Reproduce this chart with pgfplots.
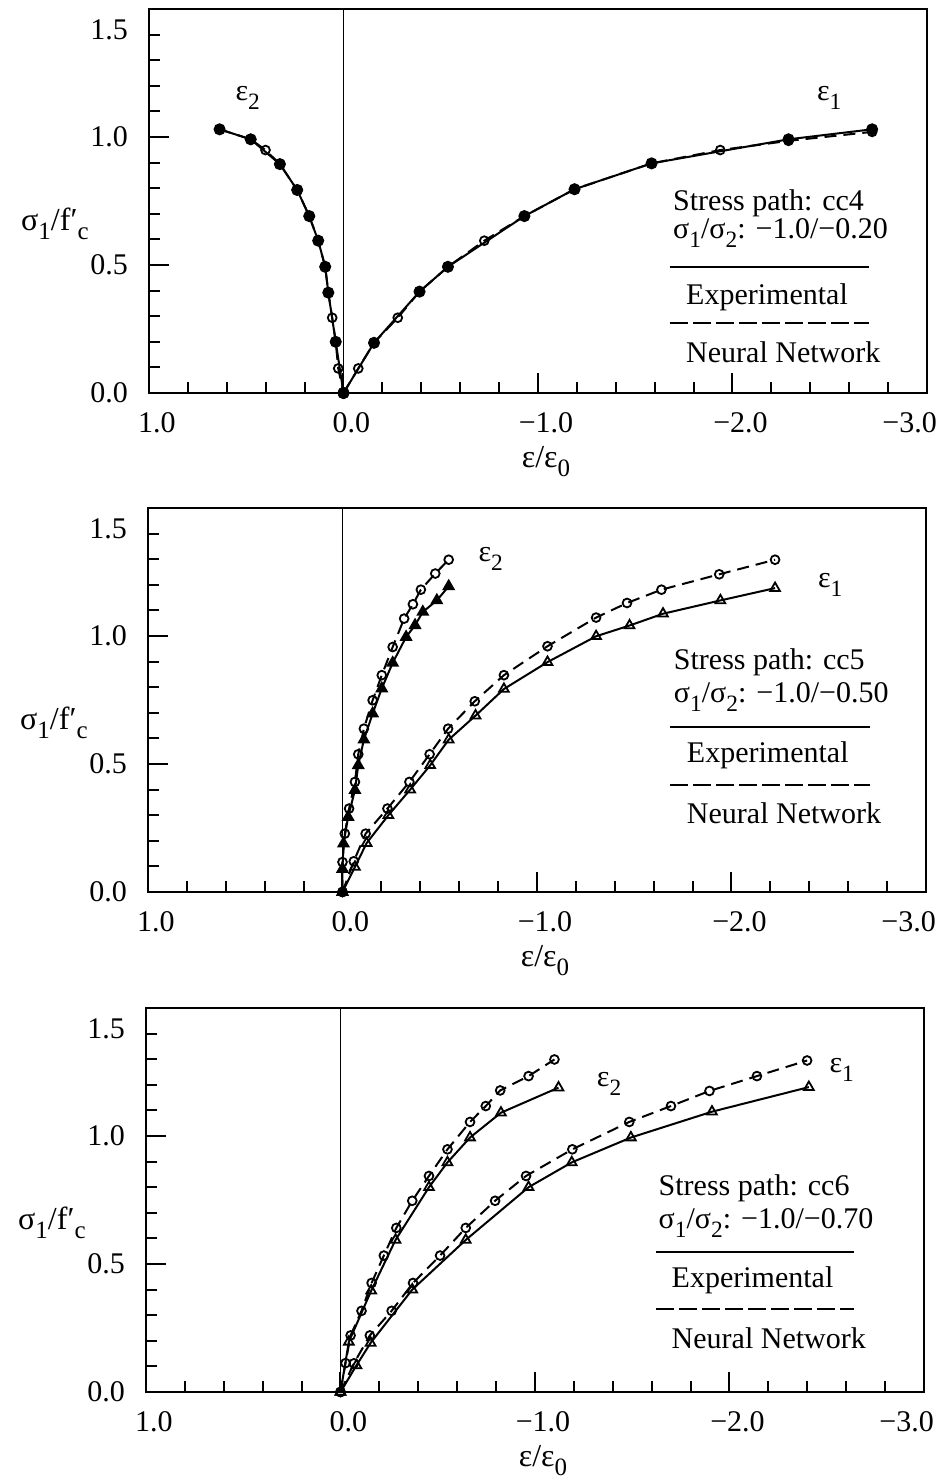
\documentclass[border=0pt]{standalone}
\usepackage{fontspec}
\setmainfont{Liberation Serif}
\usepackage{pgfplots}
\pgfplotsset{compat=1.18}

\newcommand{\tl}{\fontsize{15}{17}\selectfont}
\newcommand{\lt}{\fontsize{15}{18}\selectfont}
\newcommand{\sub}[1]{\raisebox{-0.3em}{\scalebox{0.78}{#1}}}

\pgfplotsset{
  panel/.style={
    scale only axis, width=389pt, height=192pt,
    anchor=south west,
    x dir=reverse, xmin=-3, xmax=1, ymin=0, ymax=1.5,
    axis line style={line width=1.2pt},
    xtick={1,0,-1,-2}, xticklabels={1.0,0.0,−1.0,−2.0},
    extra x ticks={-2.87}, extra x tick labels={−3.0},
    extra x tick style={major tick length=0pt},
    minor xtick={0.8,0.6,0.4,0.2,-0.2,-0.4,-0.6,-0.8,-1.2,-1.4,-1.6,-1.8,-2.2,-2.4,-2.6,-2.8},
    ytick={0,0.5,1}, yticklabels={0.0,0.5,1.0},
    extra y ticks={1.42}, extra y tick labels={1.5},
    extra y tick style={major tick length=0pt},
    minor ytick={0.1,0.2,0.3,0.4,0.6,0.7,0.8,0.9,1.1,1.2,1.3,1.4},
    xtick pos=bottom, ytick pos=left, tick align=inside,
    major tick length=10pt, minor tick length=5.5pt,
    tick style={line width=1pt, black},
    ticklabel style={font=\tl},
    xticklabel style={xshift=4pt, yshift=-6pt},
    yticklabel style={xshift=-7pt},
    xlabel={ε/ε\sub{0}}, xlabel style={font=\fontsize{16}{18}\selectfont, xshift=4pt},
    clip=false,
  },
  exp/.style={line width=1pt, black, mark=*, mark size=2.5pt, mark options={solid}},
  expt/.style={line width=1pt, black, mark=triangle, mark size=2.8pt, mark options={solid, line width=0.9pt}},
  exptf/.style={line width=1pt, black, mark=triangle*, mark size=2.8pt, mark options={solid}},
  nn/.style={line width=1pt, black, dash pattern=on 6pt off 3.5pt, mark=o, mark size=2.2pt, mark options={solid, line width=0.9pt}},
}

\begin{document}
\begin{tikzpicture}
\useasboundingbox (0,0) rectangle (472.5pt,-741pt);

% ---- panel 1: cc4
\begin{axis}[panel, at={(74.5pt,-196.5pt)}]
\draw[line width=0.8pt] (axis cs:0,0) -- (axis cs:0,1.5);
\addplot[nn] coordinates {(0.637,1.030) (0.477,0.991) (0.401,0.949) (0.327,0.894) (0.238,0.793) (0.176,0.691) (0.130,0.595) (0.094,0.493) (0.078,0.392) (0.058,0.294) (0.040,0.200) (0.027,0.096) (0,0)};
\addplot[exp] coordinates {(0.637,1.030) (0.477,0.991) (0.327,0.894) (0.238,0.793) (0.176,0.691) (0.130,0.595) (0.094,0.493) (0.078,0.392) (0.040,0.200) (0,0)};
\addplot[nn] coordinates {(0,0) (-0.076,0.096) (-0.157,0.196) (-0.279,0.294) (-0.391,0.396) (-0.537,0.493) (-0.724,0.595) (-0.930,0.691) (-1.188,0.796) (-1.584,0.897) (-1.937,0.949) (-2.288,0.985) (-2.718,1.020)};
\addplot[exp] coordinates {(0,0) (-0.157,0.196) (-0.391,0.396) (-0.537,0.493) (-0.930,0.691) (-1.188,0.796) (-1.584,0.897) (-2.288,0.991) (-2.718,1.030)};
\node[font=\lt] at (axis cs:0.492,1.152) {ε\sub{2}};
\node[font=\lt] at (axis cs:-2.497,1.152) {ε\sub{1}};
\node[font=\lt, anchor=west, inner sep=0pt] at (axis cs:-1.693,0.742) {Stress path: cc4};
\node[font=\lt, anchor=west, inner sep=0pt] at (axis cs:-1.693,0.625) {σ\sub{1}/σ\sub{2}: −1.0/−0.20};
\draw[line width=1pt] (axis cs:-1.677,0.492) -- (axis cs:-2.704,0.492);
\node[font=\lt, anchor=west, inner sep=0pt] at (axis cs:-1.760,0.375) {Experimental};
\draw[line width=1pt, dash pattern=on 9pt off 2.5pt] (axis cs:-1.677,0.273) -- (axis cs:-2.704,0.273);
\node[font=\lt, anchor=west, inner sep=0pt] at (axis cs:-1.760,0.160) {Neural Network};
\node[font=\fontsize{16}{18}\selectfont, anchor=east, inner sep=0pt] at (rel axis cs:0,0.44) [xshift=-30pt] {σ\sub{1}/f′\sub{c}};
\end{axis}

% ---- panel 2: cc5
\begin{axis}[panel, at={(74pt,-446pt)}]
\draw[line width=0.8pt] (axis cs:0,0) -- (axis cs:0,1.5);
\addplot[nn] coordinates {(0,0) (0.0,0.117) (-0.012,0.228) (-0.034,0.326) (-0.064,0.430) (-0.081,0.538) (-0.110,0.638) (-0.155,0.749) (-0.202,0.847) (-0.258,0.957) (-0.317,1.068) (-0.362,1.124) (-0.403,1.181) (-0.477,1.244) (-0.546,1.298)};
\addplot[exptf] coordinates {(0,0) (0.0,0.09) (-0.005,0.189) (-0.029,0.293) (-0.064,0.398) (-0.081,0.495) (-0.110,0.595) (-0.155,0.697) (-0.202,0.795) (-0.258,0.895) (-0.327,0.996) (-0.373,1.042) (-0.413,1.094) (-0.485,1.139) (-0.546,1.194)};
\addplot[nn] coordinates {(0,0) (-0.058,0.12) (-0.119,0.228) (-0.231,0.326) (-0.344,0.430) (-0.448,0.538) (-0.543,0.638) (-0.680,0.745) (-0.830,0.847) (-1.054,0.960) (-1.304,1.072) (-1.463,1.129) (-1.640,1.181) (-1.937,1.241) (-2.224,1.298)};
\addplot[expt] coordinates {(0,0) (-0.064,0.098) (-0.124,0.191) (-0.236,0.300) (-0.348,0.400) (-0.451,0.495) (-0.546,0.595) (-0.684,0.689) (-0.830,0.793) (-1.054,0.898) (-1.304,0.999) (-1.476,1.041) (-1.648,1.087) (-1.943,1.139) (-2.224,1.187)};
\node[font=\lt] at (axis cs:-0.762,1.303) {ε\sub{2}};
\node[font=\lt] at (axis cs:-2.508,1.198) {ε\sub{1}};
\node[font=\lt, anchor=west, inner sep=0pt] at (axis cs:-1.702,0.897) {Stress path: cc5};
\node[font=\lt, anchor=west, inner sep=0pt] at (axis cs:-1.702,0.760) {σ\sub{1}/σ\sub{2}: −1.0/−0.50};
\draw[line width=1pt] (axis cs:-1.686,0.643) -- (axis cs:-2.710,0.643);
\node[font=\lt, anchor=west, inner sep=0pt] at (axis cs:-1.769,0.534) {Experimental};
\draw[line width=1pt, dash pattern=on 9pt off 2.5pt] (axis cs:-1.686,0.417) -- (axis cs:-2.710,0.417);
\node[font=\lt, anchor=west, inner sep=0pt] at (axis cs:-1.769,0.308) {Neural Network};
\node[font=\fontsize{16}{18}\selectfont, anchor=east, inner sep=0pt] at (rel axis cs:0,0.44) [xshift=-30pt] {σ\sub{1}/f′\sub{c}};
\end{axis}

% ---- panel 3: cc6
\begin{axis}[panel, at={(73pt,-696pt)}]
\draw[line width=0.8pt] (axis cs:0,0) -- (axis cs:0,1.5);
\addplot[nn] coordinates {(0,0) (-0.026,0.113) (-0.052,0.221) (-0.108,0.317) (-0.160,0.426) (-0.223,0.533) (-0.287,0.641) (-0.369,0.747) (-0.455,0.844) (-0.550,0.948) (-0.666,1.055) (-0.747,1.117) (-0.821,1.178) (-0.967,1.234) (-1.100,1.299)};
\addplot[expt] coordinates {(0,0) (-0.043,0.196) (-0.158,0.396) (-0.283,0.594) (-0.455,0.800) (-0.550,0.897) (-0.666,0.994) (-0.825,1.091) (-1.121,1.189)};
\addplot[nn] coordinates {(0,0) (-0.069,0.112) (-0.151,0.221) (-0.263,0.317) (-0.373,0.426) (-0.512,0.533) (-0.644,0.641) (-0.795,0.747) (-0.954,0.844) (-1.192,0.948) (-1.485,1.055) (-1.699,1.117) (-1.897,1.176) (-2.141,1.234) (-2.399,1.295)};
\addplot[expt] coordinates {(0,0) (-0.082,0.104) (-0.155,0.192) (-0.369,0.400) (-0.644,0.594) (-0.967,0.800) (-1.189,0.897) (-1.493,0.994) (-1.910,1.095) (-2.408,1.191)};
\node[font=\lt] at (axis cs:-1.381,1.203) {ε\sub{2}};
\node[font=\lt] at (axis cs:-2.577,1.257) {ε\sub{1}};
\node[font=\lt, anchor=west, inner sep=0pt] at (axis cs:-1.634,0.794) {Stress path: cc6};
\node[font=\lt, anchor=west, inner sep=0pt] at (axis cs:-1.634,0.661) {σ\sub{1}/σ\sub{2}: −1.0/−0.70};
\draw[line width=1pt] (axis cs:-1.624,0.545) -- (axis cs:-2.639,0.545);
\node[font=\lt, anchor=west, inner sep=0pt] at (axis cs:-1.701,0.435) {Experimental};
\draw[line width=1pt, dash pattern=on 9pt off 2.5pt] (axis cs:-1.624,0.326) -- (axis cs:-2.639,0.326);
\node[font=\lt, anchor=west, inner sep=0pt] at (axis cs:-1.701,0.209) {Neural Network};
\node[font=\fontsize{16}{18}\selectfont, anchor=east, inner sep=0pt] at (rel axis cs:0,0.44) [xshift=-30pt] {σ\sub{1}/f′\sub{c}};
\end{axis}
\end{tikzpicture}
\end{document}
